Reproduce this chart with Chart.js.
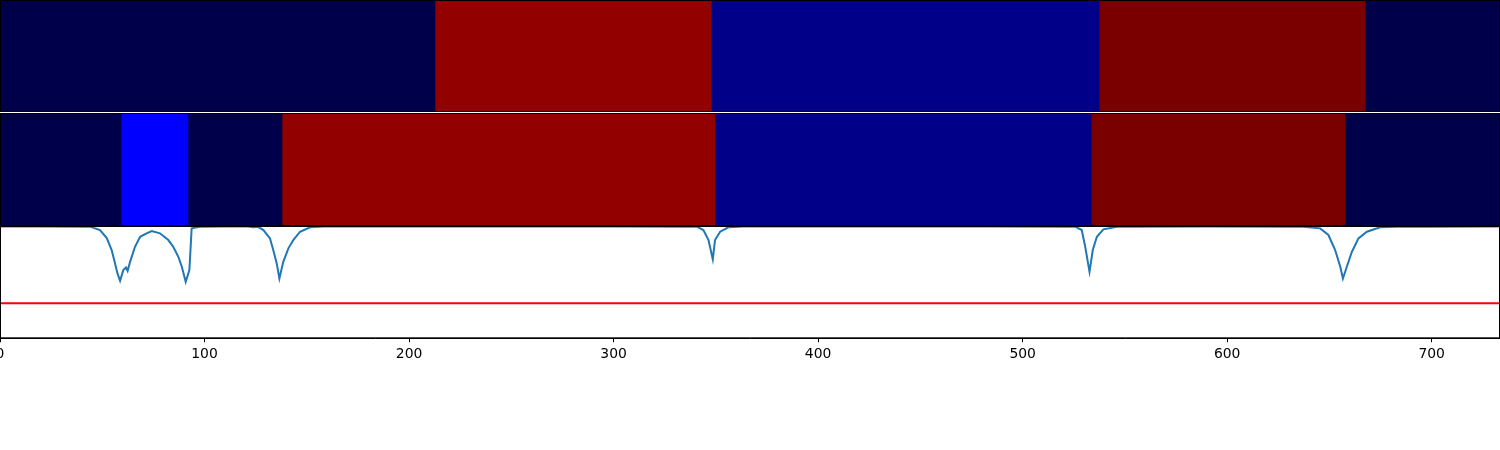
<!DOCTYPE html>
<html>
<head>
<meta charset="utf-8">
<script src="https://cdn.jsdelivr.net/npm/chart.js@4"></script>
<style>
    html, body { margin: 0; padding: 0; background: #ffffff; }
    #wrap { position: relative; width: 1500px; height: 450px; overflow: hidden; }
    .panel { position: absolute; left: 0; width: 1500px; }
    #p1 { top: 0; height: 112px; }
    #p2 { top: 113px; height: 113px; }
    #p3 { top: 226px; height: 141px; }
</style>
</head>
<body>
<div id="wrap">
    <div class="panel" id="p1"><canvas id="band1"></canvas></div>
    <div class="panel" id="p2"><canvas id="band2"></canvas></div>
    <div class="panel" id="p3"><canvas id="curve"></canvas></div>
</div>
<script>
// --- Data ---
const xMin = 0;
const xMax = 733.4;
const tickValues = [0, 100, 200, 300, 400, 500, 600, 700];

// segment boundaries and state of each segment
const band1Edges = [0, 212.7, 347.7, 537.4, 667.5, 733.4];
const band1States = ['low', 'high', 'mid', 'top', 'low'];
const band2Edges = [0, 59.2, 91.9, 137.9, 349.6, 533.5, 657.7, 733.4];
const band2States = ['low', 'peak', 'low', 'high', 'mid', 'top', 'low'];

// curve [x, y]
const curvePoints = [
    [0, 0.995], [20, 0.995], [44.0, 0.994], [48.9, 0.964], [52.2, 0.893], [54.6, 0.786],
    [56.2, 0.670], [57.4, 0.580], [58.7, 0.512], [60.3, 0.607], [61.6, 0.631], [62.4, 0.601],
    [63.6, 0.681], [66.0, 0.815], [68.5, 0.904], [71.7, 0.935], [74.2, 0.955], [78.2, 0.935],
    [82.3, 0.875], [84.7, 0.815], [87.2, 0.726], [88.9, 0.637], [90.8, 0.503], [92.6, 0.607],
    [93.7, 0.979], [97.8, 0.994], [110, 0.995], [121.3, 0.996], [123.9, 0.988], [126.2, 0.993],
    [128.8, 0.964], [132.0, 0.890], [133.6, 0.786], [135.3, 0.667], [136.6, 0.533], [138.5, 0.681],
    [141.0, 0.801], [143.4, 0.875], [146.7, 0.949], [151.6, 0.988], [158.1, 0.995], [200, 0.996],
    [260, 0.996], [300, 0.996], [340.7, 0.994], [343.9, 0.964], [346.4, 0.875], [348.5, 0.703],
    [349.6, 0.875], [352.1, 0.949], [356.1, 0.988], [363.5, 0.995], [420, 0.996], [480, 0.996],
    [525.7, 0.994], [528.9, 0.964], [530.6, 0.815], [532.7, 0.592], [534.3, 0.786], [536.3, 0.904],
    [539.5, 0.970], [546.1, 0.994], [590, 0.996], [637.3, 0.994], [645.5, 0.979], [649.5, 0.920],
    [652.8, 0.786], [655.3, 0.637], [656.6, 0.533], [658.5, 0.637], [661.0, 0.771], [664.2, 0.890],
    [668.3, 0.949], [674.8, 0.988], [683.0, 0.994], [700, 0.993], [733.4, 0.995]
];
const thresholdY = 0.3125;

// --- Styles ---
const STATE_COLORS = {
    low: '#00004a',
    peak: '#0000ff',
    mid: '#000088',
    high: '#920000',
    top: '#7a0000'
};

// draws the axes frame like matplotlib spines
const framePlugin = {
    id: 'frame',
    afterDraw(chart) {
        const { ctx, chartArea } = chart;
        ctx.save();
        ctx.strokeStyle = '#000000';
        ctx.lineWidth = 1;
        ctx.strokeRect(chartArea.left + 0.5, chartArea.top + 0.5,
            chartArea.right - chartArea.left - 1, chartArea.bottom - chartArea.top - 1);
        ctx.restore();
    }
};

// keep the plot area flush with the page edges (labels may be clipped, as in the original)
function noSidePadding(axis) {
    axis.paddingLeft = 0;
    axis.paddingRight = 0;
}

function buildBand(canvasId, edges, states) {
    const datasets = states.map((state, i) => ({
        data: [[edges[i], edges[i + 1]]],
        backgroundColor: STATE_COLORS[state],
        borderWidth: 0,
        grouped: false,
        barPercentage: 1,
        categoryPercentage: 1
    }));
    return new Chart(document.getElementById(canvasId), {
        type: 'bar',
        data: { labels: [''], datasets },
        options: {
            indexAxis: 'y',
            responsive: true,
            maintainAspectRatio: false,
            animation: false,
            layout: { padding: 0, autoPadding: false },
            plugins: { legend: { display: false }, tooltip: { enabled: false } },
            scales: {
                x: { type: 'linear', min: xMin, max: xMax, display: false },
                y: { display: false }
            }
        },
        plugins: [framePlugin]
    });
}

buildBand('band1', band1Edges, band1States);
buildBand('band2', band2Edges, band2States);

new Chart(document.getElementById('curve'), {
    type: 'line',
    data: {
        datasets: [
            {
                data: curvePoints.map(p => ({ x: p[0], y: p[1] })),
                borderColor: '#1f77b4',
                borderWidth: 2,
                pointRadius: 0,
                tension: 0
            },
            {
                data: [{ x: xMin, y: thresholdY }, { x: xMax, y: thresholdY }],
                borderColor: '#ff0000',
                borderWidth: 2,
                pointRadius: 0,
                tension: 0
            }
        ]
    },
    options: {
        responsive: true,
        maintainAspectRatio: false,
        animation: false,
        layout: { padding: 0, autoPadding: false },
        plugins: { legend: { display: false }, tooltip: { enabled: false } },
        scales: {
            x: {
                type: 'linear',
                min: xMin,
                max: xMax,
                afterBuildTicks: axis => { axis.ticks = tickValues.map(v => ({ value: v })); },
                afterFit: noSidePadding,
                grid: { drawOnChartArea: false, drawTicks: true, tickLength: 4, tickColor: '#000000' },
                border: { display: true, color: '#000000', width: 1 },
                ticks: {
                    color: '#000000',
                    maxRotation: 0,
                    autoSkip: false,
                    padding: 4,
                    font: { family: "'DejaVu Sans', sans-serif", size: 13.9 }
                }
            },
            y: { min: 0, max: 1, display: false }
        }
    },
    plugins: [framePlugin]
});
</script>
</body>
</html>
